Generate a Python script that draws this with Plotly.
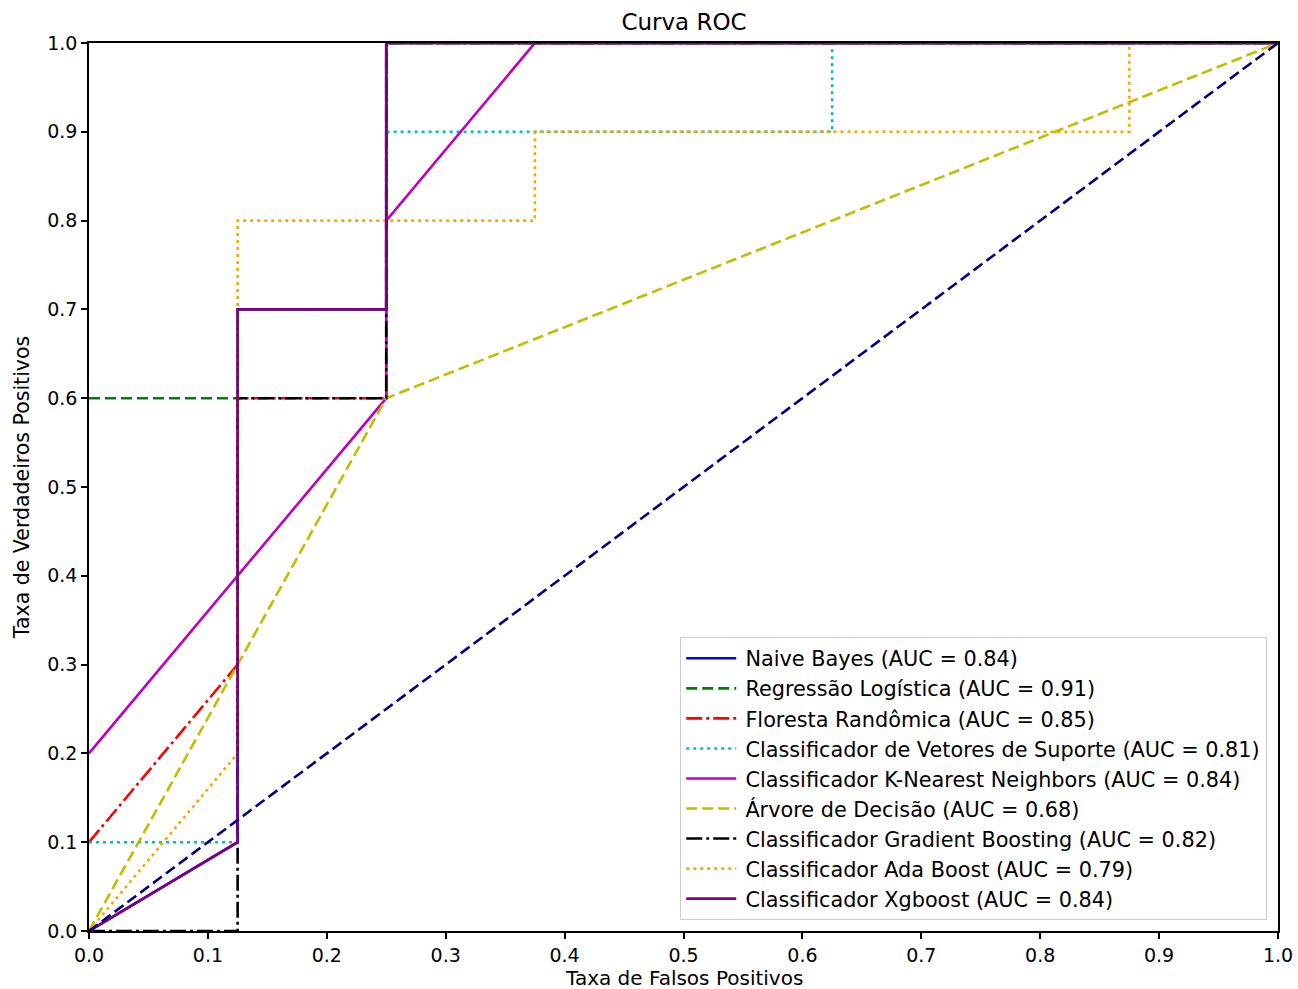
import plotly.graph_objects as go

# ROC curve data (FPR, TPR) per classifier, as drawn in the picture
nb_fpr = [0, 0.125, 0.125, 0.25, 0.25, 1]
nb_tpr = [0, 0.1, 0.7, 0.7, 1.0, 1.0]

lr_fpr = [0, 0.125, 0.125, 0.25, 0.25, 1]
lr_tpr = [0.6, 0.6, 0.7, 0.7, 1.0, 1.0]

rf_fpr = [0, 0.125, 0.125, 0.25, 0.25, 1]
rf_tpr = [0.1, 0.3, 0.6, 0.6, 1.0, 1.0]

svc_fpr = [0, 0.125, 0.125, 0.25, 0.25, 0.625, 0.625, 1]
svc_tpr = [0.1, 0.1, 0.7, 0.7, 0.9, 0.9, 1.0, 1.0]

knn_fpr = [0, 0.25, 0.25, 0.375, 1]
knn_tpr = [0.2, 0.6, 0.8, 1.0, 1.0]

dt_fpr = [0, 0.25, 1]
dt_tpr = [0, 0.6, 1.0]

gb_fpr = [0, 0.125, 0.125, 0.25, 0.25, 1]
gb_tpr = [0, 0, 0.6, 0.6, 1.0, 1.0]

ada_fpr = [0, 0.125, 0.125, 0.375, 0.375, 0.875, 0.875, 1]
ada_tpr = [0, 0.2, 0.8, 0.8, 0.9, 0.9, 1.0, 1.0]

xgb_fpr = [0, 0.125, 0.125, 0.25, 0.25, 1]
xgb_tpr = [0, 0.1, 0.7, 0.7, 1.0, 1.0]

chance_fpr = [0, 1]
chance_tpr = [0, 1]

names = [
    "Naive Bayes (AUC = 0.84)",
    "Regressão Logística (AUC = 0.91)",
    "Floresta Randômica (AUC = 0.85)",
    "Classificador de Vetores de Suporte (AUC = 0.81)",
    "Classificador K-Nearest Neighbors (AUC = 0.84)",
    "Árvore de Decisão (AUC = 0.68)",
    "Classificador Gradient Boosting (AUC = 0.82)",
    "Classificador Ada Boost (AUC = 0.79)",
    "Classificador Xgboost (AUC = 0.84)",
]

ticks = [0.0, 0.1, 0.2, 0.3, 0.4, 0.5, 0.6, 0.7, 0.8, 0.9, 1.0]
tick_text = [f"{t:.1f}" for t in ticks]

DASH = "11px,5px"
DOT = "3px,4px"
DASHDOT = "16px,4px,3px,4px"

series = [
    (nb_fpr, nb_tpr, "#0000FF", "solid"),
    (lr_fpr, lr_tpr, "#008000", DASH),
    (rf_fpr, rf_tpr, "#FF0000", DASHDOT),
    (svc_fpr, svc_tpr, "#00BFBF", DOT),
    (knn_fpr, knn_tpr, "#BF00BF", "solid"),
    (dt_fpr, dt_tpr, "#BFBF00", DASH),
    (gb_fpr, gb_tpr, "#000000", DASHDOT),
    (ada_fpr, ada_tpr, "#FFA500", DOT),
    (xgb_fpr, xgb_tpr, "#800080", "solid"),
]

fig = go.Figure()
for (x, y, c, d), n in zip(series, names):
    fig.add_trace(go.Scatter(x=x, y=y, mode="lines", name="\u2009" + n,
                             line=dict(color=c, width=2.6, dash=d)))

fig.add_trace(go.Scatter(x=chance_fpr, y=chance_tpr, mode="lines", showlegend=False,
                         line=dict(color="#000080", width=2.6, dash=DASH)))

axis_common = dict(
    range=[0, 1], tickvals=ticks, ticktext=tick_text, automargin=False,
    showgrid=False, zeroline=False, showline=True, linecolor="black",
    linewidth=1.5, mirror=True, ticks="outside", ticklen=6, tickwidth=1.5,
    tickcolor="black", tickfont=dict(size=19, color="black"),
    layer="above traces",
)

fig.update_layout(
    width=1298, height=989,
    paper_bgcolor="white", plot_bgcolor="white",
    font=dict(family="DejaVu Sans", color="black"),
    margin=dict(l=89, r=20, t=43, b=58, pad=0),
    title=dict(text="Curva ROC", x=0.527, xanchor="center", y=0.978,
               yanchor="middle", font=dict(size=23, color="black")),
    xaxis=dict(axis_common, ticklabelstandoff=0),
    yaxis=dict(axis_common, title=dict(text="Taxa de Verdadeiros Positivos",
                                        font=dict(size=20.5), standoff=12)),
    legend=dict(x=0.9907, y=0.0124, xanchor="right", yanchor="bottom",
                bgcolor="rgba(255,255,255,0.85)", bordercolor="#CCCCCC",
                borderwidth=1.3, font=dict(size=20.8, color="black"),
                tracegroupgap=0, itemwidth=50),
    annotations=[dict(text="Taxa de Falsos Positivos", xref="paper", yref="paper",
                      x=0.5, y=-0.0525, xanchor="center", yanchor="middle",
                      showarrow=False, font=dict(size=20, color="black"))],
)

fig.write_html("out.html", config={"displayModeBar": False},
               post_script="document.body.style.margin='0';document.body.style.padding='0';")
